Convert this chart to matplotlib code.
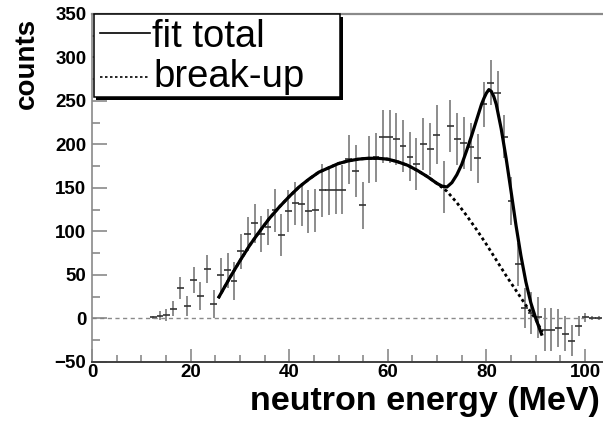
import numpy as np
import matplotlib
matplotlib.use("Agg")
import matplotlib.pyplot as plt
from matplotlib.patches import Rectangle
from matplotlib.lines import Line2D

plt.rcParams['font.family'] = ['Liberation Sans', 'DejaVu Sans']

# measured spectrum (bin centres in MeV, counts, errors)
energy = [12.4, 13.8, 15.1, 16.5, 17.9, 19.3, 20.6, 22.0, 23.4, 24.7, 26.1, 27.5, 28.8,
          30.2, 31.6, 33.0, 34.3, 35.7, 37.1, 38.4, 39.8, 41.2, 42.5, 43.9, 45.3, 46.7,
          48.0, 49.4, 50.8, 52.1, 53.5, 54.9, 56.2, 57.6, 59.0, 60.4, 61.7, 63.1, 64.5,
          65.8, 67.2, 68.6, 69.9, 71.3, 72.7, 74.1, 75.4, 76.8, 78.2, 79.5, 80.9, 82.3,
          83.6, 85.0, 86.4, 87.8, 89.1, 90.5, 91.9, 93.2, 94.6, 96.0, 97.3, 98.7, 100.1,
          101.5, 102.8]
counts = [1, 3, 4, 11, 35, 14, 44, 26, 57, 16, 50, 55, 43, 77, 97, 109, 97, 105, 124, 96,
          123, 132, 131, 123, 124, 147, 147, 148, 148, 183, 169, 130, 183, 185, 209, 209,
          206, 198, 186, 177, 200, 195, 211, 151, 221, 206, 202, 197, 184, 246, 271, 259,
          209, 135, 62, 12, 6, 1, -13, -13, -11, -18, -26, -9, 1, 0, 0]
errors = [2, 5, 7, 9, 13, 12, 15, 16, 16, 16, 19, 20, 22, 20, 20, 22, 21, 21, 25, 24,
          24, 25, 25, 25, 25, 30, 28, 28, 28, 28, 30, 27, 27, 28, 30, 30, 30, 30, 28, 30,
          30, 30, 34, 30, 30, 30, 30, 28, 28, 26, 26, 26, 25, 28, 25, 23, 24, 24, 25, 25,
          22, 20, 18, 12, 5, 2, 2]
bin_half = 0.69

# fit curves
breakup_e = [25.6, 28, 30, 32, 34, 36, 38, 40, 42, 44, 46, 48, 50, 52, 54, 56, 58, 60, 62,
             64, 66, 68, 70, 72, 74, 76, 78, 80, 82, 84, 86, 88, 90, 91.3]
breakup_v = [23, 47, 66, 84, 100, 115, 128, 140, 151, 160, 168, 173, 178, 181, 183, 184,
             184, 183, 180, 176, 170, 163, 155, 146, 133, 118, 102, 85, 67, 49, 32, 15, -1, -16]
total_e = breakup_e[:23] + [71, 72, 73, 74, 75, 76, 77, 78, 79, 79.5, 80, 80.5, 81, 81.5,
                            82, 83, 84, 85, 86, 87, 88, 89, 90, 91.3]
total_v = breakup_v[:23] + [152, 151, 156, 165, 177, 193, 210, 228, 246, 253, 259, 263, 261,
                            255, 246, 218, 184, 146, 107, 72, 42, 18, 0, -20]

W, H = 603, 421
fig = plt.figure(figsize=(W / 100, H / 100), dpi=100)
ax = fig.add_axes([92 / W, 1 - 361.7 / H, (W - 92) / W, (361.7 - 14) / H])

ax.axhline(0, color='#8a8a8a', lw=1, ls=(0, (3, 2.5)), zorder=1)

ax.errorbar(energy, counts, yerr=errors, fmt='none', ecolor='#8c8c8c', elinewidth=1.4,
            capsize=0, zorder=2)
ax.errorbar(energy, counts, xerr=bin_half, fmt='none', ecolor='#333333', elinewidth=1.2,
            capsize=0, zorder=3)

ax.plot(breakup_e, breakup_v, color='black', lw=2.0, ls=(0, (1.1, 1.1)), zorder=4)
ax.plot(total_e, total_v, color='black', lw=2.3, zorder=5, solid_capstyle='butt')

ax.set_xlim(0, (W - 92) / 4.93)
ax.set_ylim(-50, -50 + (361.7 - 14) / 0.88)
ax.set_xticks(np.arange(0, 101, 20))
ax.set_xticks(np.arange(0, 104, 5), minor=True)
ax.set_yticks(np.arange(-50, 351, 50))
ax.set_yticks(np.arange(-50, 346, 25), minor=True)

ax.tick_params(axis='both', which='both', direction='in', colors='#808080',
               labelcolor='black', labelsize=13.5)
ax.tick_params(axis='x', which='major', length=9.5, width=1.1, pad=2)
ax.tick_params(axis='x', which='minor', length=4.8, width=1.1)
ax.tick_params(axis='y', which='major', length=10.5, width=1.1, pad=4)
ax.tick_params(axis='y', which='minor', length=5.5, width=1.1)
for lab in ax.get_xticklabels() + ax.get_yticklabels():
    lab.set_fontweight('bold')

ax.spines['right'].set_visible(False)
ax.spines['left'].set_color('#8a8a8a')
ax.spines['left'].set_linewidth(1.2)
ax.spines['top'].set_color('#8a8a8a')
ax.spines['top'].set_linewidth(1.6)
ax.spines['bottom'].set_color('#404040')
ax.spines['bottom'].set_linewidth(1.4)

# axis titles
fig.text(27 / W, 1 - 63.5 / H, 'counts', rotation=90, ha='center', va='center',
         fontsize=20, fontweight='bold')
fig.text(600 / W, 1 - 410 / H, 'neutron energy (MeV)', ha='right', va='baseline',
         fontsize=24.5, fontweight='bold')

# ROOT-style legend box with shadow
def fx(px):
    return px / W

def fy(py):
    return 1 - py / H

fig.add_artist(Rectangle((fx(96), fy(100)), fx(343) - fx(96), fy(17) - fy(100),
                         transform=fig.transFigure, facecolor='black', edgecolor='none',
                         zorder=10))
fig.add_artist(Rectangle((fx(94), fy(97)), fx(340) - fx(94), fy(14) - fy(97),
                         transform=fig.transFigure, facecolor='white', edgecolor='black',
                         lw=1.1, zorder=11))
fig.add_artist(Line2D([fx(100), fx(150)], [fy(33), fy(33)], transform=fig.transFigure,
                      color='black', lw=1.2, zorder=12))
fig.add_artist(Line2D([fx(100), fx(150)], [fy(77), fy(77)], transform=fig.transFigure,
                      color='black', lw=1.2, ls=(0, (1.5, 1.5)), zorder=12))
fig.text(fx(152), fy(47), 'fit total', fontsize=27.5, va='baseline', ha='left', zorder=12)
fig.text(fx(153), fy(87), 'break-up', fontsize=27.5, va='baseline', ha='left', zorder=12)

fig.savefig('out.png', dpi=100)
